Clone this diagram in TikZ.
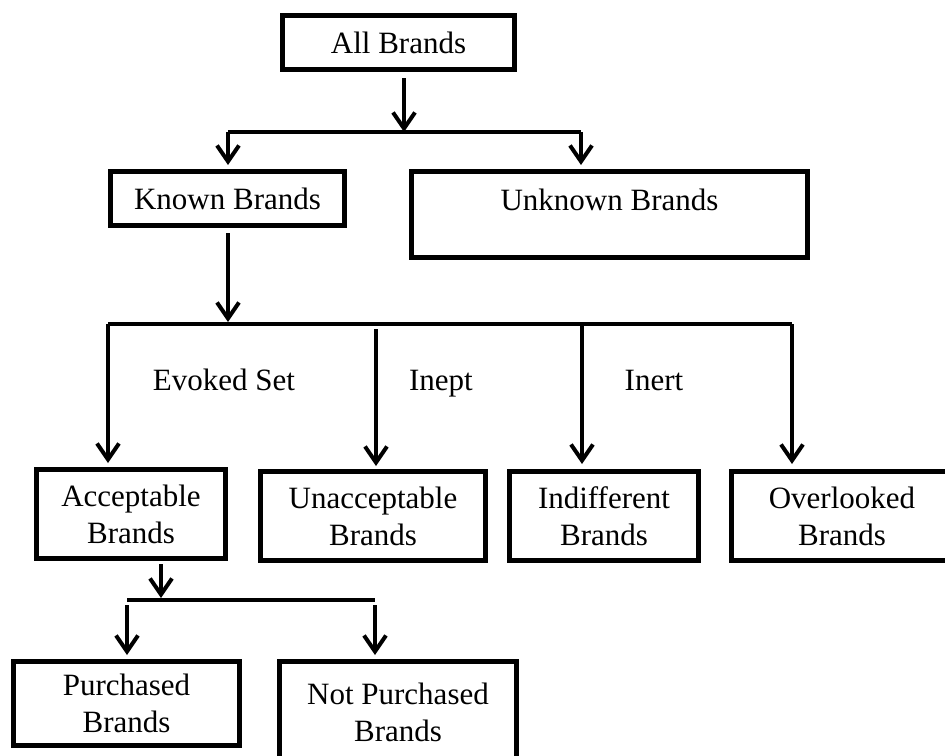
\documentclass[tikz,border=0pt]{standalone}
\usepackage{fontspec}
\setmainfont{Liberation Serif}
\usetikzlibrary{arrows.meta}

\begin{document}
\begin{tikzpicture}[x=1pt,y=-1pt,
  box/.style={draw=black, line width=5pt, rectangle, align=center, inner sep=0pt, font=\fontsize{31}{37}\selectfont},
  link/.style={black, line width=4pt},
  arr/.style={link, -{Straight Barb[length=16pt,width=22pt]}},
  lbl/.style={anchor=base, inner sep=0pt, font=\fontsize{31}{37}\selectfont}]
\useasboundingbox (0,0) rectangle (945,755);
\node[box, minimum width=232pt, minimum height=54pt] (all) at (398.5,42.5) {All Brands};
\node[box, minimum width=234pt, minimum height=54pt] (known) at (227.5,198.5) {Known Brands};
\node[box, minimum width=396pt, minimum height=86pt] (unknown) at (609.5,214.5) {Unknown Brands\\[-8pt]~};
\node[box, minimum width=189pt, minimum height=89pt] (accept) at (131,514) {Acceptable\\Brands};
\node[box, minimum width=225pt, minimum height=89pt] (unaccept) at (373,516) {Unacceptable\\Brands};
\node[box, minimum width=189pt, minimum height=89pt] (indiff) at (604,516) {Indifferent\\Brands};
\node[box, minimum width=221pt, minimum height=89pt] (overlook) at (842,516) {Overlooked\\Brands};
\node[box, minimum width=226pt, minimum height=84pt] (purch) at (126.5,703.5) {Purchased\\Brands};
\node[box, minimum width=237pt, minimum height=101pt] (notpurch) at (398,712) {Not Purchased\\Brands};

\coordinate (ta) at (404,132);
\coordinate (tl) at (228,132);
\coordinate (tr) at (581,132);
\draw[arr, shorten <=6pt] (all.south -| ta) -- (ta);
\draw[link] (tl) -- (tr);
\draw[arr, shorten >=4pt] (tl) -- (tl |- known.north);
\draw[arr, shorten >=4pt] (tr) -- (tr |- unknown.north);

\coordinate (ma) at (228,322);
\coordinate (m1) at (108,324);
\coordinate (m2) at (376,324);
\coordinate (m3) at (582,324);
\coordinate (m4) at (792,324);
\draw[arr, shorten <=5pt] (known.south -| ma) -- (ma);
\draw[link] (m1) -- (m4);
\draw[arr, shorten >=4pt] (m1) -- (m1 |- accept.north);
\draw[arr, shorten <=5pt, shorten >=3pt] (m2) -- (m2 |- unaccept.north);
\draw[arr, shorten >=5pt] (m3) -- (m3 |- indiff.north);
\draw[arr, shorten >=5pt] (m4) -- (m4 |- overlook.north);

\node[lbl] (evoked) at (224,390) {Evoked Set};
\node[lbl] (inept) at (441,390) {Inept};
\node[lbl] (inert) at (654,390) {Inert};

\coordinate (ba) at (161,598);
\coordinate (bl) at (127,600);
\coordinate (br) at (375,600);
\draw[arr, shorten <=3pt] (accept.south -| ba) -- (ba);
\draw[link] (bl) -- (br);
\draw[arr, shorten <=5pt, shorten >=4pt] (bl) -- (bl |- purch.north);
\draw[arr, shorten <=5pt, shorten >=4pt] (br) -- (br |- notpurch.north);
\end{tikzpicture}
\end{document}
